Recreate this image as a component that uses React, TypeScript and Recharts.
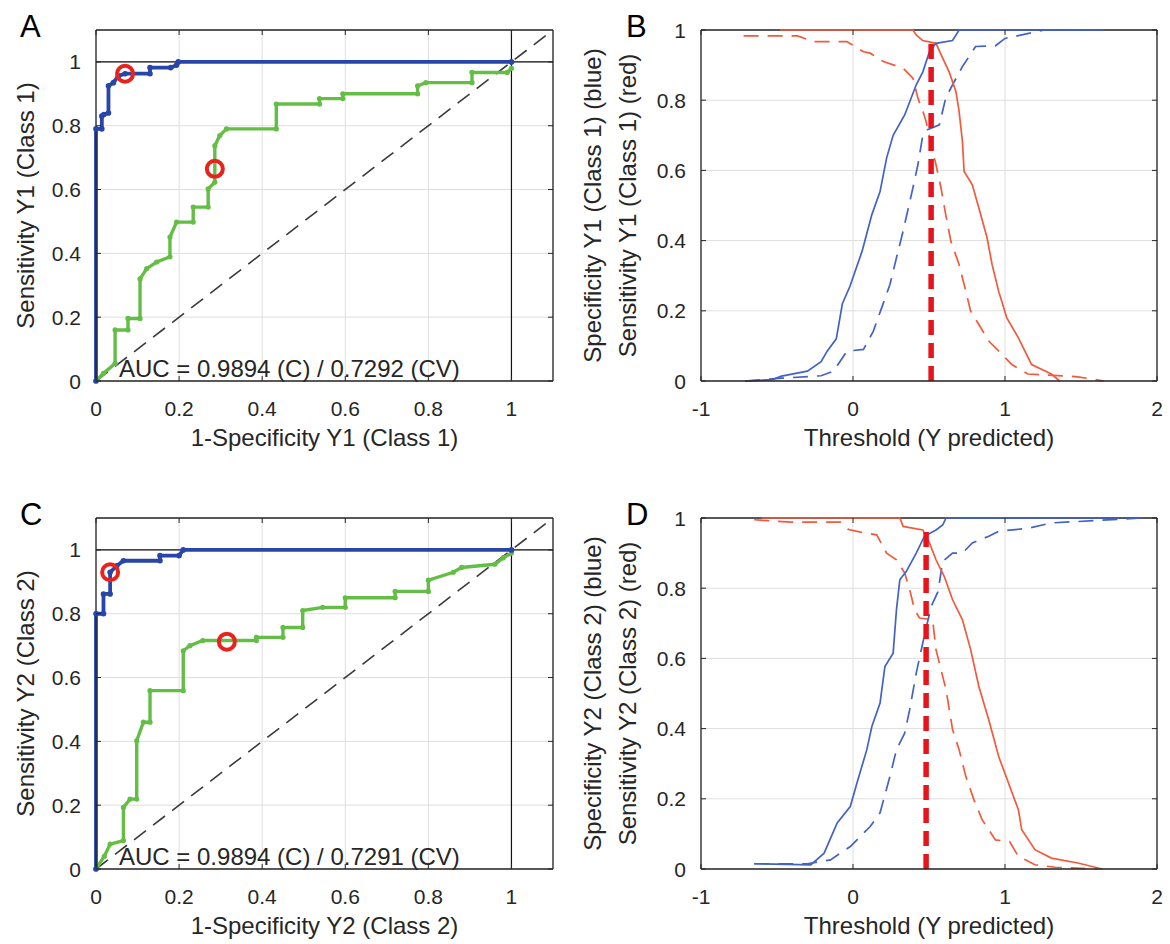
import React from 'react';
import { ComposedChart, Line, Scatter, XAxis, YAxis, CartesianGrid, ReferenceLine } from 'recharts';

type P = [number, number];

// ---- tick labels ----
const rocTicks = [0, 0.2, 0.4, 0.6, 0.8, 1];
const probTicks = [0, 0.2, 0.4, 0.6, 0.8, 1];
const thrTicks = [-1, 0, 1, 2];

// ---- Panel A : ROC Y1 (Class 1) ----
const rocA_cal: P[] = [[0, 0], [0, 0.79], [0.014, 0.79], [0.014, 0.83], [0.019, 0.835], [0.03, 0.84], [0.03, 0.925], [0.042, 0.935], [0.054, 0.956], [0.07, 0.963], [0.13, 0.963], [0.13, 0.982], [0.18, 0.982], [0.194, 0.99], [0.198, 1], [1, 1]];
const rocA_cv: P[] = [[0, 0], [0.018, 0.024], [0.046, 0.055], [0.046, 0.16], [0.077, 0.16], [0.077, 0.196], [0.106, 0.196], [0.106, 0.32], [0.122, 0.352], [0.146, 0.373], [0.178, 0.389], [0.178, 0.451], [0.194, 0.498], [0.234, 0.498], [0.234, 0.545], [0.27, 0.545], [0.27, 0.602], [0.286, 0.623], [0.286, 0.7375], [0.298, 0.769], [0.314, 0.79], [0.434, 0.79], [0.434, 0.868], [0.538, 0.868], [0.538, 0.885], [0.594, 0.885], [0.594, 0.9], [0.774, 0.9], [0.774, 0.925], [0.794, 0.935], [0.905, 0.935], [0.905, 0.967], [0.99, 0.967], [1, 0.98]];
const rocA_marks: P[] = [[0.07, 0.963], [0.286, 0.665]];
const aucA = 'AUC = 0.9894 (C) / 0.7292 (CV)';

// ---- Panel C : ROC Y2 (Class 2) ----
const rocC_cal: P[] = [[0, 0], [0, 0.8], [0.018, 0.8], [0.018, 0.862], [0.034, 0.862], [0.034, 0.93], [0.05, 0.95], [0.066, 0.966], [0.154, 0.966], [0.154, 0.982], [0.2, 0.982], [0.21, 1], [1, 1]];
const rocC_cv: P[] = [[0, 0], [0.02, 0.04], [0.034, 0.078], [0.066, 0.089], [0.066, 0.193], [0.082, 0.219], [0.098, 0.219], [0.098, 0.402], [0.114, 0.46], [0.13, 0.46], [0.13, 0.559], [0.21, 0.559], [0.21, 0.684], [0.226, 0.7], [0.257, 0.716], [0.386, 0.716], [0.386, 0.726], [0.45, 0.726], [0.45, 0.757], [0.4975, 0.757], [0.4975, 0.81], [0.5455, 0.82], [0.6, 0.82], [0.6, 0.85], [0.72, 0.85], [0.72, 0.87], [0.8, 0.87], [0.8, 0.905], [0.86, 0.93], [0.88, 0.945], [0.96, 0.955], [0.98, 0.975], [1, 0.99]];
const rocC_marks: P[] = [[0.034, 0.93], [0.315, 0.7125]];
const aucC = 'AUC = 0.9894 (C) / 0.7291 (CV)';

const diagonal: P[] = [[0, 0], [1.1, 1.1]];

// ---- Panel B : threshold plot Y1 ----
const specB_cal: P[] = [[-0.71, 0], [-0.53, 0.004], [-0.47, 0.014], [-0.3, 0.028], [-0.21, 0.055], [-0.17, 0.085], [-0.11, 0.12], [-0.07, 0.22], [-0.02, 0.27], [0.06, 0.37], [0.124, 0.474], [0.178, 0.54], [0.221, 0.635], [0.264, 0.7], [0.34, 0.758], [0.416, 0.844], [0.459, 0.88], [0.503, 0.938], [0.546, 0.962], [0.655, 0.97], [0.698, 1], [1.65, 1]];
const specB_cv: P[] = [[-0.71, 0], [-0.47, 0.008], [-0.21, 0.015], [-0.128, 0.028], [-0.04, 0.085], [0.069, 0.09], [0.134, 0.142], [0.189, 0.209], [0.243, 0.275], [0.286, 0.351], [0.329, 0.426], [0.394, 0.55], [0.427, 0.616], [0.459, 0.7], [0.49, 0.716], [0.568, 0.73], [0.61, 0.806], [0.655, 0.844], [0.72, 0.896], [0.807, 0.953], [0.937, 0.955], [1.0, 0.976], [1.11, 0.986], [1.26, 1], [1.5, 1]];
const sensB_cal: P[] = [[-0.48, 1], [0.394, 1], [0.416, 0.986], [0.459, 0.97], [0.546, 0.962], [0.59, 0.92], [0.633, 0.88], [0.677, 0.825], [0.698, 0.768], [0.72, 0.682], [0.731, 0.597], [0.785, 0.559], [0.828, 0.493], [0.882, 0.408], [0.915, 0.332], [0.958, 0.256], [1.012, 0.18], [1.088, 0.123], [1.175, 0.047], [1.305, 0.02], [1.36, 0]];
const sensB_cv: P[] = [[-0.72, 0.983], [-0.364, 0.983], [-0.26, 0.967], [-0.04, 0.967], [0.069, 0.938], [0.113, 0.934], [0.2, 0.91], [0.33, 0.891], [0.394, 0.863], [0.427, 0.806], [0.459, 0.77], [0.481, 0.739], [0.514, 0.673], [0.546, 0.616], [0.579, 0.55], [0.61, 0.474], [0.644, 0.398], [0.698, 0.332], [0.742, 0.256], [0.774, 0.199], [0.828, 0.161], [0.893, 0.114], [0.98, 0.076], [1.045, 0.047], [1.15, 0.02], [1.479, 0.012], [1.65, 0]];
const thresholdB: P[] = [[0.514, 0], [0.514, 0.965]];

// ---- Panel D : threshold plot Y2 ----
const specD_cal: P[] = [[-0.65, 0.015], [-0.278, 0.012], [-0.19, 0.045], [-0.104, 0.131], [-0.018, 0.178], [0.026, 0.245], [0.091, 0.34], [0.124, 0.406], [0.178, 0.473], [0.21, 0.577], [0.264, 0.615], [0.286, 0.739], [0.308, 0.824], [0.351, 0.848], [0.416, 0.9], [0.47, 0.948], [0.546, 0.966], [0.59, 0.98], [0.612, 1], [1.75, 1]];
const specD_cv: P[] = [[-0.65, 0.015], [-0.3, 0.015], [-0.148, 0.026], [-0.018, 0.064], [0.113, 0.121], [0.178, 0.16], [0.243, 0.264], [0.286, 0.34], [0.34, 0.387], [0.373, 0.454], [0.416, 0.558], [0.459, 0.644], [0.514, 0.748], [0.559, 0.79], [0.59, 0.876], [0.655, 0.9], [0.72, 0.9], [0.785, 0.929], [0.893, 0.948], [0.958, 0.962], [1.154, 0.971], [1.305, 0.986], [1.48, 0.99], [1.9, 1]];
const sensD_cal: P[] = [[-0.6, 1], [0.308, 1], [0.33, 0.976], [0.459, 0.966], [0.503, 0.929], [0.546, 0.881], [0.6, 0.834], [0.655, 0.767], [0.72, 0.71], [0.774, 0.625], [0.828, 0.52], [0.893, 0.425], [0.958, 0.321], [1.023, 0.245], [1.088, 0.169], [1.11, 0.112], [1.197, 0.055], [1.305, 0.031], [1.479, 0.017], [1.64, 0]];
const sensD_cv: P[] = [[-0.65, 0.995], [-0.408, 0.988], [-0.083, 0.988], [-0.029, 0.967], [0.05, 0.96], [0.156, 0.952], [0.221, 0.9], [0.286, 0.881], [0.34, 0.843], [0.373, 0.796], [0.405, 0.739], [0.438, 0.715], [0.524, 0.71], [0.546, 0.625], [0.579, 0.568], [0.612, 0.511], [0.655, 0.397], [0.698, 0.34], [0.742, 0.264], [0.796, 0.197], [0.85, 0.14], [0.937, 0.083], [1.03, 0.078], [1.088, 0.036], [1.197, 0.012], [1.33, 0.005], [1.61, 0]];
const thresholdD: P[] = [[0.481, 0], [0.481, 0.971]];

// ---- styling ----
const AX = '#262626';
const GRID = '#dedede';
const NAVY = '#2846aa';
const GREEN = '#64be46';
const RING = '#e8231e';
const BLUE = '#4262c6';
const ORANGE = '#f25a3c';
const THR = '#e8141c';
const FONT = '"Liberation Sans", Arial, Helvetica, sans-serif';
const PLOT_H = 351;
const DASH = '15 9';

const toXY = (pts: P[]) => pts.map(([x, y]) => ({ x, y }));

const makeXTick = (plotH: number) => (props: any) => {
  const { x, y, payload } = props;
  return (
    <g>
      <line x1={x} x2={x} y1={y} y2={y - 5} stroke={AX} strokeWidth={1} />
      <line x1={x} x2={x} y1={y - plotH} y2={y - plotH + 5} stroke={AX} strokeWidth={1} />
      <text x={x} y={y + 35} textAnchor="middle" fontSize={21} fontFamily={FONT} fill={AX}>
        {String(payload.value)}
      </text>
    </g>
  );
};

const makeYTick = (plotW: number) => (props: any) => {
  const { x, y, payload } = props;
  return (
    <g>
      <line x1={x} x2={x + 5} y1={y} y2={y} stroke={AX} strokeWidth={1} />
      <line x1={x + plotW} x2={x + plotW - 5} y1={y} y2={y} stroke={AX} strokeWidth={1} />
      <text x={x - 15} y={y + 7.5} textAnchor="end" fontSize={21} fontFamily={FONT} fill={AX}>
        {String(payload.value)}
      </text>
    </g>
  );
};

const ringShape = (props: any) => (
  <circle cx={props.cx} cy={props.cy} r={8} fill="none" stroke={RING} strokeWidth={4} />
);

function RocPanel({ cal, cv, marks, top }: { cal: P[]; cv: P[]; marks: P[]; top: number }) {
  const plotW = 457;
  return (
    <div style={{ position: 'absolute', left: 0, top }}>
      <ComposedChart width={585} height={472} margin={{ top: 30, right: 32, bottom: 0, left: 0 }}>
        <CartesianGrid stroke={GRID} strokeWidth={1} />
        <XAxis type="number" dataKey="x" domain={[0, 1.1]} ticks={rocTicks} interval={0} height={91}
          tickSize={0} tickMargin={0} tickLine={false} tick={makeXTick(PLOT_H)}
          axisLine={{ stroke: AX, strokeWidth: 1.3 }} />
        <YAxis type="number" dataKey="y" domain={[0, 1.1]} ticks={rocTicks} interval={0} width={96}
          tickSize={0} tickMargin={0} tickLine={false} tick={makeYTick(plotW)}
          axisLine={{ stroke: AX, strokeWidth: 1.3 }} />
        <ReferenceLine y={1.1} stroke={AX} strokeWidth={1.3} />
        <ReferenceLine x={1.1} stroke={AX} strokeWidth={1.3} />
        <ReferenceLine y={1} stroke="#111" strokeWidth={1.2} />
        <ReferenceLine x={1} stroke="#111" strokeWidth={1.2} />
        <Line data={toXY(diagonal)} dataKey="y" type="linear" stroke="#3a3a3a" strokeWidth={1.6}
          strokeDasharray={DASH} dot={false} activeDot={false} isAnimationActive={false} />
        <Line data={toXY(cv)} dataKey="y" type="linear" stroke={GREEN} strokeWidth={3.4}
          dot={{ r: 2.6, fill: GREEN, stroke: GREEN, strokeWidth: 0 }} activeDot={false} isAnimationActive={false} />
        <Line data={toXY(cal)} dataKey="y" type="linear" stroke={NAVY} strokeWidth={3.8}
          dot={{ r: 2.8, fill: NAVY, stroke: NAVY, strokeWidth: 0 }} activeDot={false} isAnimationActive={false} />
        <Scatter data={toXY(marks)} dataKey="y" shape={ringShape} isAnimationActive={false} />
      </ComposedChart>
    </div>
  );
}

function ThresholdPanel({ specCal, specCv, sensCal, sensCv, thr, top }:
  { specCal: P[]; specCv: P[]; sensCal: P[]; sensCv: P[]; thr: P[]; top: number }) {
  const plotW = 456;
  return (
    <div style={{ position: 'absolute', left: 585, top }}>
      <ComposedChart width={585} height={472} margin={{ top: 30, right: 13, bottom: 0, left: 0 }}>
        <CartesianGrid stroke={GRID} strokeWidth={1} />
        <XAxis type="number" dataKey="x" domain={[-1, 2]} ticks={thrTicks} interval={0} height={91}
          tickSize={0} tickMargin={0} tickLine={false} tick={makeXTick(PLOT_H)}
          axisLine={{ stroke: AX, strokeWidth: 1.3 }} />
        <YAxis type="number" dataKey="y" domain={[0, 1]} ticks={probTicks} interval={0} width={116}
          tickSize={0} tickMargin={0} tickLine={false} tick={makeYTick(plotW)}
          axisLine={{ stroke: AX, strokeWidth: 1.3 }} />
        <ReferenceLine y={1} stroke={AX} strokeWidth={1.3} />
        <ReferenceLine x={2} stroke={AX} strokeWidth={1.3} />
        <Line data={toXY(sensCv)} dataKey="y" type="linear" stroke={ORANGE} strokeWidth={1.7}
          strokeDasharray={DASH} dot={false} activeDot={false} isAnimationActive={false} />
        <Line data={toXY(specCv)} dataKey="y" type="linear" stroke={BLUE} strokeWidth={1.7}
          strokeDasharray={DASH} dot={false} activeDot={false} isAnimationActive={false} />
        <Line data={toXY(sensCal)} dataKey="y" type="linear" stroke={ORANGE} strokeWidth={1.7}
          dot={false} activeDot={false} isAnimationActive={false} />
        <Line data={toXY(specCal)} dataKey="y" type="linear" stroke={BLUE} strokeWidth={1.7}
          dot={false} activeDot={false} isAnimationActive={false} />
        <Line data={toXY(thr)} dataKey="y" type="linear" stroke={THR} strokeWidth={5.5}
          strokeDasharray="15 8" dot={false} activeDot={false} isAnimationActive={false} />
      </ComposedChart>
    </div>
  );
}

const txt = { fontFamily: FONT, fill: AX } as const;

function Overlay() {
  return (
    <svg width={1170} height={944} style={{ position: 'absolute', left: 0, top: 0, pointerEvents: 'none' }}>
      <text x={20} y={37} fontSize={31} fontFamily={FONT} fill="#000">A</text>
      <text x={626} y={37} fontSize={31} fontFamily={FONT} fill="#000">B</text>
      <text x={20} y={525} fontSize={31} fontFamily={FONT} fill="#000">C</text>
      <text x={626} y={525} fontSize={31} fontFamily={FONT} fill="#000">D</text>

      <text x={324.5} y={446} textAnchor="middle" fontSize={24} {...txt}>1-Specificity Y1 (Class 1)</text>
      <text x={929} y={446} textAnchor="middle" fontSize={24} {...txt}>Threshold (Y predicted)</text>
      <text x={324.5} y={934} textAnchor="middle" fontSize={24} {...txt}>1-Specificity Y2 (Class 2)</text>
      <text x={929} y={934} textAnchor="middle" fontSize={24} {...txt}>Threshold (Y predicted)</text>

      <text transform="translate(34,205.5) rotate(-90)" textAnchor="middle" fontSize={24} {...txt}>Sensitivity Y1 (Class 1)</text>
      <text transform="translate(601,205.5) rotate(-90)" textAnchor="middle" fontSize={24} {...txt}>Specificity Y1 (Class 1) (blue)</text>
      <text transform="translate(636,205.5) rotate(-90)" textAnchor="middle" fontSize={24} {...txt}>Sensitivity Y1 (Class 1) (red)</text>
      <text transform="translate(34,693.5) rotate(-90)" textAnchor="middle" fontSize={24} {...txt}>Sensitivity Y2 (Class 2)</text>
      <text transform="translate(601,693.5) rotate(-90)" textAnchor="middle" fontSize={24} {...txt}>Specificity Y2 (Class 2) (blue)</text>
      <text transform="translate(636,693.5) rotate(-90)" textAnchor="middle" fontSize={24} {...txt}>Sensitivity Y2 (Class 2) (red)</text>

      <text x={119} y={377} fontSize={24} {...txt}>{aucA}</text>
      <text x={119} y={865} fontSize={24} {...txt}>{aucC}</text>
    </svg>
  );
}

export default function App() {
  return (
    <div style={{ position: 'absolute', left: 0, top: 0, width: 1170, height: 944, overflow: 'hidden', background: '#fff' }}>
      <RocPanel cal={rocA_cal} cv={rocA_cv} marks={rocA_marks} top={0} />
      <ThresholdPanel specCal={specB_cal} specCv={specB_cv} sensCal={sensB_cal} sensCv={sensB_cv} thr={thresholdB} top={0} />
      <RocPanel cal={rocC_cal} cv={rocC_cv} marks={rocC_marks} top={488} />
      <ThresholdPanel specCal={specD_cal} specCv={specD_cv} sensCal={sensD_cal} sensCv={sensD_cv} thr={thresholdD} top={488} />
      <Overlay />
    </div>
  );
}
